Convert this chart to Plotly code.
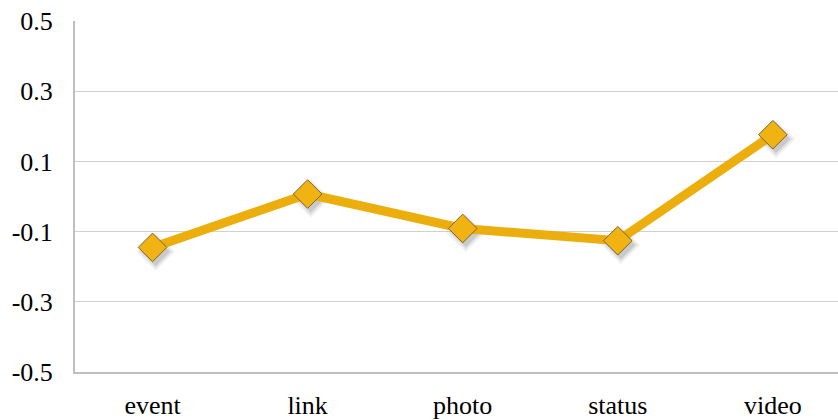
import plotly.graph_objects as go

categories = ["event", "link", "photo", "status", "video"]
values = [-0.145, 0.007, -0.091, -0.126, 0.176]
y_ticks = [-0.5, -0.3, -0.1, 0.1, 0.3, 0.5]
y_tick_labels = ["-0.5", "-0.3", "-0.1", "0.1", "0.3", "0.5"]

gold = "#EBAE0C"
font = dict(family="Liberation Serif", size=26, color="#000000")

positions = list(range(len(categories)))
# shadow offset in axis units: a few pixels right and down
dx, dy = 0.02, 0.012
shadow_x = [p + dx for p in positions]
shadow_y = [v - dy for v in values]

fig = go.Figure()

# soft drop shadow under each diamond
for size, alpha in [(30, 0.05), (26, 0.07), (22, 0.10)]:
    fig.add_trace(go.Scatter(
        x=shadow_x, y=shadow_y, mode="markers",
        marker=dict(symbol="diamond", size=size, color=f"rgba(0,0,0,{alpha})", line=dict(width=0)),
        hoverinfo="skip", showlegend=False,
    ))

fig.add_trace(go.Scatter(
    x=positions, y=values, mode="lines+markers",
    line=dict(color=gold, width=9),
    marker=dict(symbol="diamond", size=22, color="#F0B312",
                line=dict(color="#7A6430", width=1)),
    showlegend=False,
))

fig.update_layout(
    width=838, height=420,
    margin=dict(l=75, r=0, t=21, b=48),
    paper_bgcolor="white", plot_bgcolor="white",
    font=font,
    xaxis=dict(
        range=[-0.5, 4.42], tickvals=positions, ticktext=categories,
        showgrid=False, showline=True, linecolor="#BFBFBF", linewidth=2,
        ticks="", tickfont=font, ticklabelstandoff=9, zeroline=False,
    ),
    yaxis=dict(
        range=[-0.5, 0.5], tickvals=y_ticks, ticktext=y_tick_labels,
        showgrid=True, gridcolor="#D0D0D0", gridwidth=1,
        showline=True, linecolor="#BFBFBF", linewidth=2,
        zeroline=False, ticks="", tickfont=font, ticklabelstandoff=15,
    ),
)

fig.write_html("out.html")
